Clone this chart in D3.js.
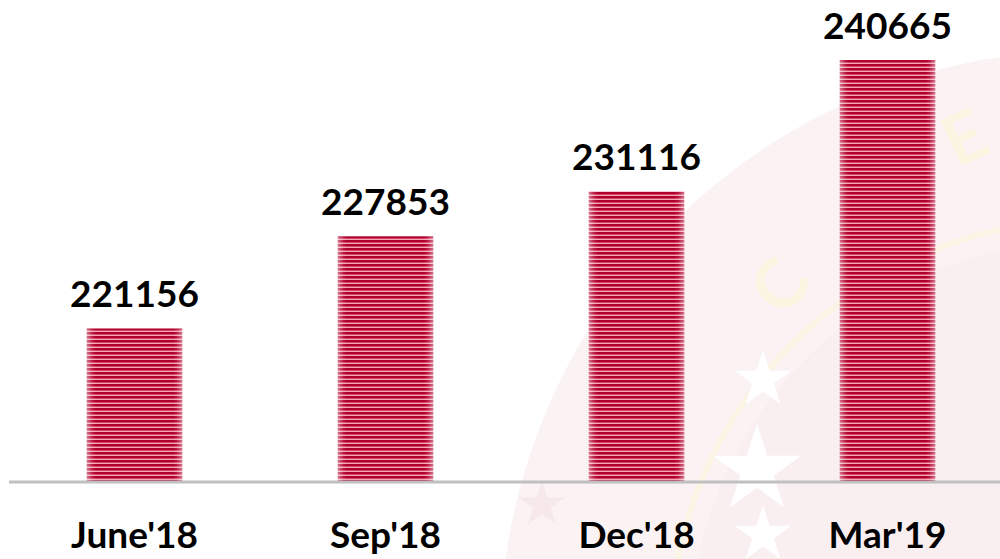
<!DOCTYPE html>
<html>
<head>
<meta charset="utf-8">
<script src="https://cdn.jsdelivr.net/npm/d3@7"></script>
<style>
  html, body { margin: 0; padding: 0; background: #fff; }
  #chart { width: 1000px; height: 559px; }
</style>
</head>
<body>
<div id="chart"></div>
<script>
// chart data
const categories = ["June'18", "Sep'18", "Dec'18", "Mar'19"];
const values = [221156, 227853, 231116, 240665];

const W = 1000, H = 559;
const BASE_Y = 482;

const svg = d3.select("#chart").append("svg")
    .attr("width", W)
    .attr("height", H);

const defs = svg.append("defs");

// horizontal stripes for the bars
const stripe = defs.append("pattern")
    .attr("id", "stripes")
    .attr("patternUnits", "userSpaceOnUse")
    .attr("width", 10)
    .attr("height", 4);
stripe.append("rect").attr("width", 10).attr("height", 4).attr("fill", "#f4a6b6");
stripe.append("rect").attr("width", 10).attr("height", 2).attr("fill", "#b0002a");
stripe.append("rect").attr("y", 2).attr("width", 10).attr("height", 1).attr("fill", "#d4456a");

// lighter edges on each bar
const edge = defs.append("linearGradient")
    .attr("id", "edge")
    .attr("x1", "0%").attr("x2", "100%");
[[0, 0.45], [0.06, 0.1], [0.1, 0], [0.9, 0], [0.94, 0.1], [1, 0.45]].forEach(s => {
    edge.append("stop")
        .attr("offset", s[0])
        .attr("stop-color", "#fff")
        .attr("stop-opacity", s[1]);
});

// faint watermark behind the chart
const wm = svg.append("g").attr("class", "watermark");
wm.append("circle")
    .attr("cx", 1090).attr("cy", 640).attr("r", 590)
    .attr("fill", "#fbf2f4");
wm.append("circle")
    .attr("cx", 1090).attr("cy", 640).attr("r", 420)
    .attr("fill", "none")
    .attr("stroke", "#fbf4e4")
    .attr("stroke-width", 6);
wm.append("circle")
    .attr("cx", 1090).attr("cy", 640).attr("r", 400)
    .attr("fill", "#f9eef0");
wm.append("text")
    .attr("x", 800).attr("y", 300)
    .attr("transform", "rotate(-55,800,300)")
    .attr("font-family", "Lato, sans-serif")
    .attr("font-weight", 700)
    .attr("font-size", 70)
    .attr("fill", "#fbf4e0")
    .attr("text-anchor", "middle")
    .text("C");
wm.append("text")
    .attr("x", 975).attr("y", 160)
    .attr("transform", "rotate(-25,975,160)")
    .attr("font-family", "Lato, sans-serif")
    .attr("font-weight", 700)
    .attr("font-size", 70)
    .attr("fill", "#fbf4e0")
    .attr("text-anchor", "middle")
    .text("E");
const star = d3.symbol().type(d3.symbolStar);
[[763, 380, 1000, "#ffffff"], [757, 470, 2400, "#ffffff"], [763, 535, 1000, "#ffffff"], [542, 505, 650, "#f7e8eb"]]
    .forEach(s => {
        wm.append("path")
            .attr("transform", "translate(" + s[0] + "," + s[1] + ")")
            .attr("d", star.size(s[2])())
            .attr("fill", s[3]);
    });

// scales
const xScale = d3.scaleBand()
    .domain(categories)
    .range([9, 1013])
    .paddingInner(0.62)
    .paddingOuter(0.31);

const yScale = d3.scaleLinear()
    .domain([210000, d3.max(values)])
    .range([BASE_Y, 60]);

const data = categories.map((c, i) => ({ cat: c, value: values[i] }));

const bars = svg.append("g").attr("class", "bars");

bars.selectAll("rect.bar")
    .data(data)
    .enter()
    .append("rect")
    .attr("class", "bar")
    .attr("x", d => xScale(d.cat))
    .attr("y", d => yScale(d.value))
    .attr("width", xScale.bandwidth())
    .attr("height", d => BASE_Y - yScale(d.value))
    .attr("fill", "url(#stripes)");

bars.selectAll("rect.shade")
    .data(data)
    .enter()
    .append("rect")
    .attr("class", "shade")
    .attr("x", d => xScale(d.cat))
    .attr("y", d => yScale(d.value))
    .attr("width", xScale.bandwidth())
    .attr("height", d => BASE_Y - yScale(d.value))
    .attr("fill", "url(#edge)");

// value labels
svg.append("g").selectAll("text")
    .data(data)
    .enter()
    .append("text")
    .attr("x", d => xScale(d.cat) + xScale.bandwidth() / 2)
    .attr("y", d => yScale(d.value) - 21)
    .attr("text-anchor", "middle")
    .attr("font-family", "Lato, sans-serif")
    .attr("font-weight", 700)
    .attr("font-size", 37)
    .attr("fill", "#000")
    .text(d => d.value);

// x axis
const xAxis = svg.append("g")
    .attr("class", "xAxis")
    .attr("transform", "translate(0," + BASE_Y + ")")
    .call(d3.axisBottom(xScale).tickSize(0).tickPadding(0));

xAxis.select(".domain")
    .attr("d", "M9,0H1000")
    .attr("stroke", "#c0c0c0")
    .attr("stroke-width", 3);

xAxis.selectAll(".tick text")
    .attr("y", 66)
    .attr("dy", 0)
    .attr("font-family", "Lato, sans-serif")
    .attr("font-weight", 700)
    .attr("font-size", 37)
    .attr("fill", "#000");
</script>
</body>
</html>
